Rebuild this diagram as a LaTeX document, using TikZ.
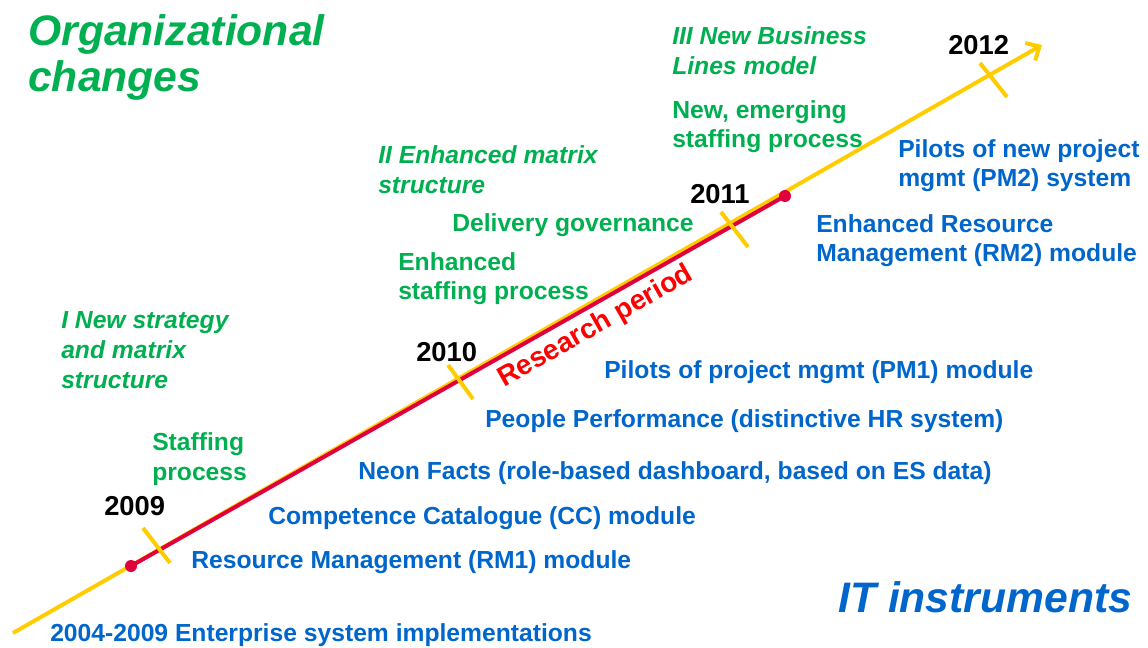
\documentclass[tikz,border=0pt]{standalone}
\usepackage{fontspec}
\setmainfont{Liberation Sans}
\usetikzlibrary{arrows.meta}
\definecolor{orggreen}{HTML}{00B050}
\definecolor{itblue}{HTML}{0066CC}
\definecolor{lineyellow}{HTML}{FFCC00}
\definecolor{linered}{HTML}{E0003C}
\tikzset{
  orgtext/.style={text=orggreen, inner sep=0pt, anchor=base west, align=left,
    font=\fontsize{18.5}{22}\selectfont\bfseries},
  orghead/.style={orgtext, font=\fontsize{18.5}{22.5}\selectfont\bfseries\itshape},
  ittext/.style={orgtext, text=itblue},
  yeartext/.style={orgtext, text=black, font=\fontsize{20.5}{22}\selectfont\bfseries},
  bigtitle/.style={orgtext, font=\fontsize{32}{35}\selectfont\bfseries\itshape},
  tickmark/.style={lineyellow, line width=3pt},
}
\begin{document}
\begin{tikzpicture}[x=0.75pt, y=-0.75pt]
            \useasboundingbox (0,0) rectangle (1148,648);
            % time line
            \coordinate (start) at (13,633);
            \coordinate (tip) at (1042,45);
            \coordinate (dotA) at (131,566);
            \coordinate (dotB) at (785,196);
            \draw[lineyellow, line width=3pt, -{Straight Barb[length=8pt, width=15pt]}] (start) -- (tip);
            \draw[linered, line width=3pt] (dotA) -- (dotB);
            \fill[linered] (dotA) circle (4.5pt);
            \fill[linered] (dotB) circle (4.5pt);
            \foreach \xa/\ya/\xb/\yb in {143/528/170/563, 448/365/473/399, 721/212/748/247, 980/63/1007/97}
                \draw[tickmark] (\xa,\ya) -- (\xb,\yb);
            \node[rotate=29.7, text=red, font=\fontsize{21}{24}\selectfont\bfseries] (research) at (596,327) {Research period};
            % years (base of last line)
            \node[yeartext] (y2009) at (104,515) {2009};
            \node[yeartext] (y2010) at (416,361) {2010};
            \node[yeartext] (y2011) at (690,204) {2011};
            \node[yeartext] (y2012) at (948,55) {2012};
            % organizational changes
            \node[bigtitle] (orgtitle) at (28,92) {Organizational\\changes};
            \node[orghead] (phaseone) at (61,388) {I New strategy\\and matrix\\structure};
            \node[orgtext] (staffing) at (152,480) {Staffing\\process};
            \node[orghead] (phasetwo) at (378,194) {II Enhanced matrix\\structure};
            \node[orgtext] (enhstaff) at (398,300) {Enhanced\\staffing process};
            \node[orgtext] (delivery) at (452,232) {Delivery governance};
            \node[orghead] (phasethree) at (672,75) {III New Business\\Lines model};
            \node[orgtext] (newstaff) at (672,148) {New, emerging\\staffing process};
            % IT instruments
            \node[bigtitle, text=itblue] (ittitle) at (838,612) {IT instruments};
            \node[ittext] (es) at (50,641) {2004-2009 Enterprise system implementations};
            \node[ittext] (rmone) at (191,568) {Resource Management (RM1) module};
            \node[ittext] (cc) at (268,524) {Competence Catalogue (CC) module};
            \node[ittext] (neon) at (358,479) {Neon Facts (role-based dashboard, based on ES data)};
            \node[ittext] (people) at (485,427) {People Performance (distinctive HR system)};
            \node[ittext] (pmone) at (604,378) {Pilots of project mgmt (PM1) module};
            \node[ittext] (rmtwo) at (816,262) {Enhanced Resource\\Management (RM2) module};
            \node[ittext] (pmtwo) at (898,187) {Pilots of new project\\mgmt (PM2) system};
\end{tikzpicture}
\end{document}
